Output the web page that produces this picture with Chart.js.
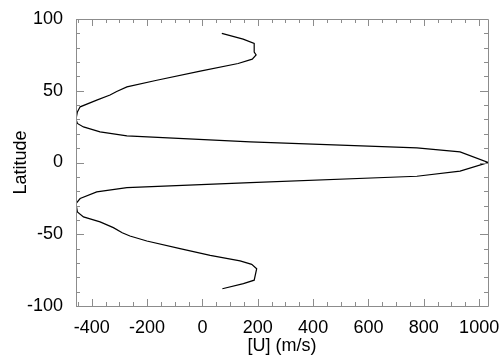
<!DOCTYPE html>
<html>
<head>
<meta charset="utf-8">
<script src="https://cdn.jsdelivr.net/npm/chart.js@4"></script>
<style>
  html, body { margin: 0; padding: 0; background: #fff; }
  canvas { display: block; }
</style>
</head>
<body>
<canvas id="windChart" width="504" height="360"></canvas>
<script>
// zonal-mean wind profile (north to south)
const latitudes = [90, 86, 83, 77, 75, 72, 69, 63.7, 57.3, 52.7, 49.5, 47, 43.5, 38.8, 35.3, 30.2, 27.2, 24.8, 21.4, 18.6, 14.4, 10.2, 7.4, 0,
  -6, -9.6, -14, -17.5, -20.5, -25.1, -28.6, -34.4, -37.9, -41.4, -45.4, -49, -51.2, -54.7, -60, -64.7, -68.6, -71, -74, -82, -84.4, -88];
const windU = [70, 147, 187, 187, 194, 180, 129, -8, -165, -273, -310, -334, -382, -442, -452, -457, -452, -430, -370, -273, 173, 775, 931, 1032,
  931, 775, 173, -273, -382, -442, -457, -452, -430, -370, -322, -290, -262, -201, -81, 28, 136, 178, 196, 187, 148, 72];

const xTicks = [-400, -200, 0, 200, 400, 600, 800, 1000];
const yTicks = [-100, -50, 0, 50, 100];
const xMin = -457, xMax = 1032;

const FONT = "'Liberation Sans', Arial, sans-serif";
const AXIS_COLOR = "#8c8c8c";

// IDL-style box with inward ticks on all four sides
const boxTicks = {
  id: "boxTicks",
  afterDraw(chart) {
    const { ctx, chartArea: a, scales } = chart;
    const xs = scales.x, ys = scales.y;
    ctx.save();
    ctx.strokeStyle = AXIS_COLOR;
    ctx.lineWidth = 1;
    ctx.beginPath();
    ctx.rect(a.left + 0.5, a.top + 0.5, a.right - a.left, a.bottom - a.top);
    ctx.stroke();
    ctx.beginPath();
    for (let v = -450; v <= xMax; v += 50) {
      const px = Math.round(xs.getPixelForValue(v)) + 0.5;
      const len = v % 200 === 0 ? 7 : 4;
      ctx.moveTo(px, a.bottom); ctx.lineTo(px, a.bottom - len);
      ctx.moveTo(px, a.top); ctx.lineTo(px, a.top + len);
    }
    for (let v = -100; v <= 100; v += 10) {
      const py = Math.round(ys.getPixelForValue(v)) + 0.5;
      const len = v % 50 === 0 ? 8 : 4;
      ctx.moveTo(a.left, py); ctx.lineTo(a.left + len, py);
      ctx.moveTo(a.right, py); ctx.lineTo(a.right - len, py);
    }
    ctx.stroke();
    ctx.restore();
  }
};

const ctx = document.getElementById("windChart");

const chart = new Chart(ctx, {
  type: "scatter",
  data: {
    datasets: [{
      data: windU.map((u, i) => ({ x: u, y: latitudes[i] })),
      showLine: true,
      borderColor: "#000",
      borderWidth: 1.2,
      pointRadius: 0,
      tension: 0
    }]
  },
  options: {
    responsive: false,
    animation: false,
    devicePixelRatio: 1,
    layout: { padding: { top: 19, right: 16, left: 0, bottom: 0 } },
    plugins: {
      legend: { display: false },
      tooltip: { enabled: false }
    },
    scales: {
      x: {
        type: "linear",
        min: xMin,
        max: xMax,
        grid: { display: false },
        border: { display: false },
        afterBuildTicks: s => { s.ticks = xTicks.map(v => ({ value: v })); },
        afterFit: s => { s.height = 54; },
        ticks: {
          color: "#000",
          font: { family: FONT, size: 18 },
          padding: 3,
          maxRotation: 0,
          autoSkip: false,
          callback: v => String(v)
        },
        title: {
          display: true,
          text: "[U] (m/s)",
          color: "#000",
          font: { family: FONT, size: 18 },
          padding: { top: 0, bottom: 3 }
        }
      },
      y: {
        type: "linear",
        min: -100,
        max: 100,
        grid: { display: false },
        border: { display: false },
        afterBuildTicks: s => { s.ticks = yTicks.map(v => ({ value: v })); },
        afterFit: s => { s.width = 76; },
        ticks: {
          color: "#000",
          font: { family: FONT, size: 18 },
          padding: 5,
          callback: v => String(v)
        },
        title: {
          display: true,
          text: "Latitude",
          color: "#000",
          font: { family: FONT, size: 18 },
          padding: { top: 10, bottom: 0 }
        }
      }
    }
  },
  plugins: [boxTicks]
});
</script>
</body>
</html>
